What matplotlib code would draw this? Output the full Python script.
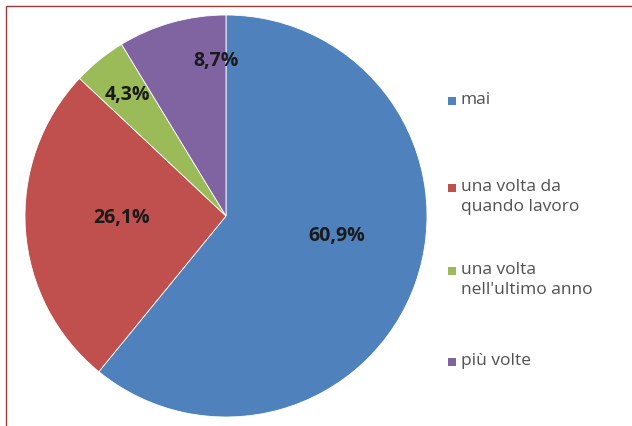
import math
import matplotlib.pyplot as plt
from matplotlib.patches import Rectangle

categorie = ["mai", "una volta da\nquando lavoro", "una volta\nnell'ultimo anno", "più volte"]
percentuali = [60.9, 26.1, 4.3, 8.7]
etichette = ["60,9%", "26,1%", "4,3%", "8,7%"]
colori = ["#4F81BD", "#C0504D", "#9BBB59", "#8064A2"]

# posizione delle etichette: distanza dal centro e scarto d'angolo (gradi)
dist_etichette = [0.56, 0.52, 0.78, 0.78]
scarto_angolo = [10, -3, 0, -12]
# posizione verticale (pixel) della prima riga di ogni voce di legenda
y_legenda = [101, 188, 271, 362]

plt.rcParams['font.family'] = ['Open Sans', 'DejaVu Sans']

W, H = 632, 427
fig = plt.figure(figsize=(W / 100, H / 100), dpi=100)

# cornice rossa scura (visibili solo il lato sopra e quello a sinistra)
fig.patches.append(Rectangle((6 / W, -0.1), 1.2, (H - 7) / H + 0.1, transform=fig.transFigure,
                             fill=False, edgecolor="#9E3B3B", linewidth=1.0))

cx, cy, r = 226, 217, 201
ax = fig.add_axes([(cx - r) / W, (H - cy - r) / H, 2 * r / W, 2 * r / H])
spicchi, _ = ax.pie(percentuali, colors=colori, startangle=90, counterclock=False,
                    wedgeprops=dict(edgecolor="white", linewidth=0.6))
ax.set_aspect('auto')
ax.set_xlim(-1, 1)
ax.set_ylim(-1, 1)
ax.axis('off')

for w, testo, d, s in zip(spicchi, etichette, dist_etichette, scarto_angolo):
    ang = math.radians((w.theta1 + w.theta2) / 2 + s)
    ax.text(d * math.cos(ang), d * math.sin(ang), testo, ha='center', va='center',
            fontsize=14, color="#1a1a1a", fontweight='bold')

for cat, col, y in zip(categorie, colori, y_legenda):
    fig.patches.append(Rectangle((448 / W, 1 - (y + 5) / H), 8 / W, 8 / H,
                                 transform=fig.transFigure, facecolor=col, edgecolor='none'))
    fig.text(461 / W, 1 - (y - 9) / H, cat, ha='left', va='top', fontsize=12.5,
             color="#505050", linespacing=1.35)

fig.savefig("out.png", dpi=100)
